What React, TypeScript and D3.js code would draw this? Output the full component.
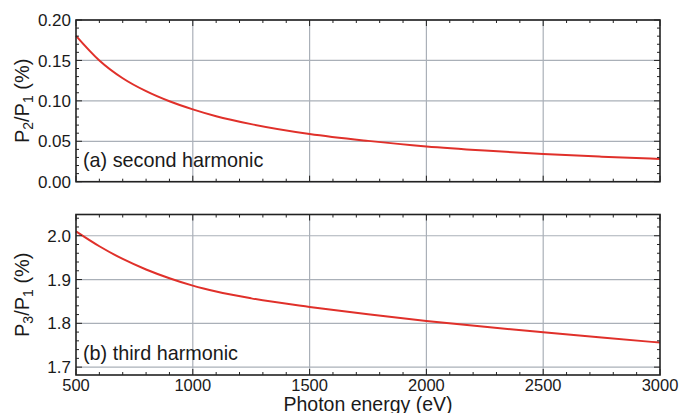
import React from 'react';
import * as d3 from 'd3';

const energy = [500, 600, 700, 800, 900, 1000, 1100, 1250, 1500, 1750, 2000, 2250, 2500, 2750, 3000];
const secondHarmonic = [0.1805, 0.150, 0.128, 0.112, 0.0995, 0.0895, 0.081, 0.0712, 0.059, 0.0505, 0.0436, 0.0385, 0.0343, 0.031, 0.0282];
const thirdHarmonic = [2.010, 1.976, 1.947, 1.923, 1.903, 1.886, 1.8725, 1.857, 1.8375, 1.8205, 1.8055, 1.792, 1.7795, 1.7675, 1.756];

const xTicks = [500, 1000, 1500, 2000, 2500, 3000];
const topTicks = [0, 0.05, 0.1, 0.15, 0.2];
const bottomTicks = [1.7, 1.8, 1.9, 2.0];

const W = 680;
const H = 413;
const left = 76;
const right = 660;
const font = 'Liberation Sans, Arial, Helvetica, sans-serif';
const gridColor = '#aab0b8';
const red = '#e0302a';

type PanelProps = {
  top: number;
  bottom: number;
  domain: [number, number];
  ticks: number[];
  minorStep: number;
  fmt: (v: number) => string;
  values: number[];
  sub: string;
  label: string;
  labelY: number;
  showX: boolean;
};

const x = d3.scaleLinear().domain([500, 3000]).range([left, right]);

function Panel(p: PanelProps) {
  const y = d3.scaleLinear().domain(p.domain).range([p.bottom, p.top]);
  const line = d3
    .line<number>()
    .x((_, i) => x(energy[i]))
    .y((v) => y(v))
    .curve(d3.curveMonotoneX);

  const xMinor = d3.range(500, 3001, 100).filter((v) => v % 500 !== 0);
  const yMinor: number[] = [];
  const start = Math.ceil(p.domain[0] / p.minorStep - 1e-9);
  for (let k = start; k * p.minorStep <= p.domain[1] + 1e-9; k++) {
    const v = k * p.minorStep;
    if (!p.ticks.some((t) => Math.abs(t - v) < 1e-9)) yMinor.push(v);
  }
  const major = 6;
  const minor = 3;
  const mid = (p.top + p.bottom) / 2;

  return (
    <g>
      {xTicks.slice(1, -1).map((t) => (
        <line key={'gx' + t} x1={x(t)} x2={x(t)} y1={p.top} y2={p.bottom} stroke={gridColor} strokeWidth={1.2} />
      ))}
      {p.ticks.map((t) => (
        <line key={'gy' + t} x1={left} x2={right} y1={y(t)} y2={y(t)} stroke={gridColor} strokeWidth={1.2} />
      ))}
      <path d={line(p.values) || ''} fill="none" stroke={red} strokeWidth={2} />
      <g stroke="#222" strokeWidth={1}>
        {xTicks.map((t) => (
          <g key={'tx' + t}>
            <line x1={x(t)} x2={x(t)} y1={p.bottom} y2={p.bottom - major} />
            <line x1={x(t)} x2={x(t)} y1={p.top} y2={p.top + major} />
          </g>
        ))}
        {xMinor.map((t) => (
          <g key={'mx' + t}>
            <line x1={x(t)} x2={x(t)} y1={p.bottom} y2={p.bottom - minor} />
            <line x1={x(t)} x2={x(t)} y1={p.top} y2={p.top + minor} />
          </g>
        ))}
        {p.ticks.map((t) => (
          <g key={'ty' + t}>
            <line x1={left} x2={left + major} y1={y(t)} y2={y(t)} />
            <line x1={right} x2={right - major} y1={y(t)} y2={y(t)} />
          </g>
        ))}
        {yMinor.map((t) => (
          <g key={'my' + t}>
            <line x1={left} x2={left + minor} y1={y(t)} y2={y(t)} />
            <line x1={right} x2={right - minor} y1={y(t)} y2={y(t)} />
          </g>
        ))}
      </g>
      <rect x={left} y={p.top} width={right - left} height={p.bottom - p.top} fill="none" stroke="#222" strokeWidth={1.6} />
      {p.ticks.map((t) => (
        <text key={'ly' + t} x={left - 5} y={y(t)} dy="0.36em" textAnchor="end" fontSize={17} fontFamily={font} fill="#1a1a1a">
          {p.fmt(t)}
        </text>
      ))}
      {p.showX &&
        xTicks.map((t) => (
          <text key={'lx' + t} x={x(t)} y={391} textAnchor="middle" fontSize={16.5} fontFamily={font} fill="#1a1a1a">
            {t}
          </text>
        ))}
      <text
        transform={`translate(29,${mid}) rotate(-90)`}
        textAnchor="middle"
        fontSize={20}
        fontFamily={font}
        fill="#1a1a1a"
      >
        P<tspan dy={4} fontSize={14}>{p.sub}</tspan>
        <tspan dy={-4}>/P</tspan>
        <tspan dy={4} fontSize={14}>1</tspan>
        <tspan dy={-4}> (%)</tspan>
      </text>
      <text x={83} y={p.labelY} fontSize={19.8} fontFamily={font} fill="#1a1a1a">
        {p.label}
      </text>
    </g>
  );
}

export default function App() {
  return (
    <svg width={W} height={H} style={{ position: 'absolute', left: 0, top: 0, background: '#fff' }}>
      <rect width={W} height={H} fill="#fff" />
      <Panel
        top={20}
        bottom={181.7}
        domain={[0, 0.2]}
        ticks={topTicks}
        minorStep={0.01}
        fmt={(v) => v.toFixed(2)}
        values={secondHarmonic}
        sub="2"
        label="(a) second harmonic"
        labelY={167}
        showX={false}
      />
      <Panel
        top={214.5}
        bottom={375}
        domain={[1.682, 2.0485]}
        ticks={bottomTicks}
        minorStep={0.02}
        fmt={(v) => v.toFixed(1)}
        values={thirdHarmonic}
        sub="3"
        label="(b) third harmonic"
        labelY={360}
        showX={true}
      />
      <text x={368} y={410.5} textAnchor="middle" fontSize={19.5} fontFamily={font} fill="#1a1a1a">
        Photon energy (eV)
      </text>
    </svg>
  );
}
